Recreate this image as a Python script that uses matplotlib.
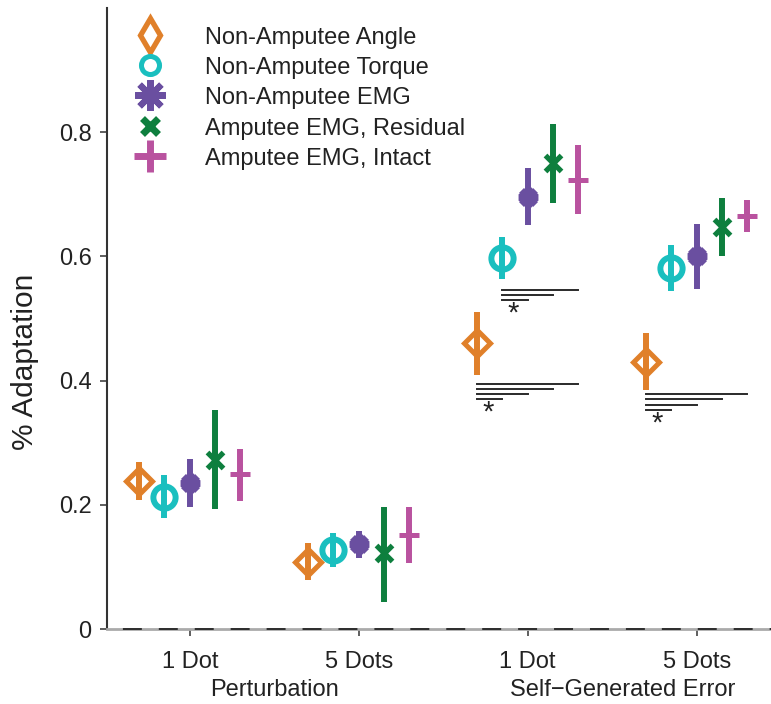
import matplotlib
matplotlib.use("Agg")
import matplotlib.pyplot as plt
from matplotlib.lines import Line2D

plt.rcParams['font.family'] = ['Liberation Sans', 'DejaVu Sans']

# conditions on the x axis
tick_labels = ['1 Dot', '5 Dots', '1 Dot', '5 Dots']
group_labels = ['Perturbation', 'Self\u2212Generated Error']

series_names = ['Non-Amputee Angle', 'Non-Amputee Torque', 'Non-Amputee EMG',
                'Amputee EMG, Residual', 'Amputee EMG, Intact']

# mean adaptation and error bar ends, one value per condition
angle_mean = [0.238, 0.108, 0.461, 0.430]
angle_lo = [0.208, 0.079, 0.409, 0.385]
angle_hi = [0.269, 0.138, 0.511, 0.476]

torque_mean = [0.213, 0.127, 0.598, 0.582]
torque_lo = [0.178, 0.100, 0.563, 0.544]
torque_hi = [0.248, 0.154, 0.632, 0.619]

emg_mean = [0.235, 0.137, 0.696, 0.600]
emg_lo = [0.196, 0.114, 0.650, 0.548]
emg_hi = [0.273, 0.158, 0.742, 0.652]

residual_mean = [0.272, 0.122, 0.751, 0.648]
residual_lo = [0.194, 0.043, 0.686, 0.600]
residual_hi = [0.353, 0.197, 0.813, 0.694]

intact_mean = [0.249, 0.152, 0.723, 0.665]
intact_lo = [0.206, 0.107, 0.668, 0.639]
intact_hi = [0.290, 0.197, 0.779, 0.691]

# significance brackets: (condition, from series, to series, bracket heights)
sig_bars = [
    (2, 1, [4, 3, 2], [0.546, 0.538, 0.530]),
    (2, 0, [4, 3, 2, 1], [0.394, 0.387, 0.378, 0.370]),
    (3, 0, [4, 3, 2, 1], [0.378, 0.370, 0.361, 0.353]),
]

means = [angle_mean, torque_mean, emg_mean, residual_mean, intact_mean]
lows = [angle_lo, torque_lo, emg_lo, residual_lo, intact_lo]
highs = [angle_hi, torque_hi, emg_hi, residual_hi, intact_hi]

colors = ['#E0802A', '#1ABFBF', '#6A4FA0', '#0E7F3E', '#B9529F']
offsets = [-0.3, -0.15, 0.0, 0.15, 0.3]
# marker, size, edge width, filled
plot_markers = [('D', 13, 3.6, False), ('o', 16, 4.3, False), ((8, 2, 0), 14, 4.8, True),
                ('x', 11, 3.8, True), ('+', 14.5, 3.6, True)]
legend_markers = [('d', 17, 3.8, False), ('o', 13, 3.6, False), ((8, 2, 0), 22, 4.5, True),
                  ('x', 12, 5, True), ('+', 23, 5, True)]

fig = plt.figure(figsize=(7.71, 7.04), dpi=100)
ax = fig.add_axes([107 / 771, 75 / 704, 664 / 771, 621 / 704])

xs = [1, 2, 3, 4]
for i in range(len(series_names)):
    c = colors[i]
    px = [x + offsets[i] for x in xs]
    yerr = [[m - lo for m, lo in zip(means[i], lows[i])],
            [hi - m for m, hi in zip(means[i], highs[i])]]
    ax.errorbar(px, means[i], yerr=yerr, fmt='none', ecolor=c, elinewidth=4.3,
                capsize=0, zorder=3)
    mk, ms, mew, filled = plot_markers[i]
    ax.plot(px, means[i], linestyle='none', marker=mk, markersize=ms, markeredgewidth=mew,
            color=c, markerfacecolor=c if filled else 'none', zorder=4)

# significance lines and asterisks
for cond, src, targets, heights in sig_bars:
    x0 = xs[cond] + offsets[src]
    for t, h in zip(targets, heights):
        ax.plot([x0, xs[cond] + offsets[t]], [h, h], color='#2a2a2a', lw=1.4, zorder=2)
    ax.text(x0 + 0.065, min(heights) - 0.022, '*', ha='center', va='center',
            fontsize=21, color='#222222')

ax.axhline(0, color='#222222', lw=1.3, ls=(11.1, (10.5, 9.4)), zorder=3, clip_on=False)

ax.set_xlim(0.51, 4.44)
ax.set_ylim(0, 1.0)
ax.set_yticks([0, 0.2, 0.4, 0.6, 0.8])
ax.set_yticklabels(['0', '0.2', '0.4', '0.6', '0.8'])
ax.set_xticks(xs)
ax.set_xticklabels(tick_labels)
ax.tick_params(axis='both', labelsize=17, length=5, width=1.1, colors='#333333',
               labelcolor='#222222')
ax.tick_params(axis='y', pad=6)
ax.tick_params(axis='x', pad=11)
ax.set_ylabel('% Adaptation', fontsize=21.5, color='#222222')
ax.yaxis.set_label_coords(-0.102, 0.43)

for x, lab in zip([1.5, 3.56], group_labels):
    ax.text(x, -0.099, lab, ha='center', va='center', fontsize=17, color='#222222',
            transform=ax.get_xaxis_transform())

ax.spines['top'].set_visible(False)
ax.spines['right'].set_visible(False)
ax.spines['left'].set_color('#333333')
ax.spines['left'].set_linewidth(1.5)
ax.spines['bottom'].set_color('#aaaaaa')
ax.spines['bottom'].set_linewidth(2)

handles = []
for i in range(len(series_names)):
    mk, ms, mew, filled = legend_markers[i]
    handles.append(Line2D([], [], linestyle='none', marker=mk, markersize=ms,
                          markeredgewidth=mew, color=colors[i],
                          markerfacecolor=colors[i] if filled else 'none'))
ax.legend(handles, series_names, loc='upper left', bbox_to_anchor=(115 / 771, 1 - 14 / 704),
          bbox_transform=fig.transFigure, frameon=False, fontsize=17,
          handlelength=2.0, handletextpad=1.3, labelspacing=0.31, borderpad=0,
          handleheight=0.9, labelcolor='#222222')

fig.savefig('out.png', dpi=100)
